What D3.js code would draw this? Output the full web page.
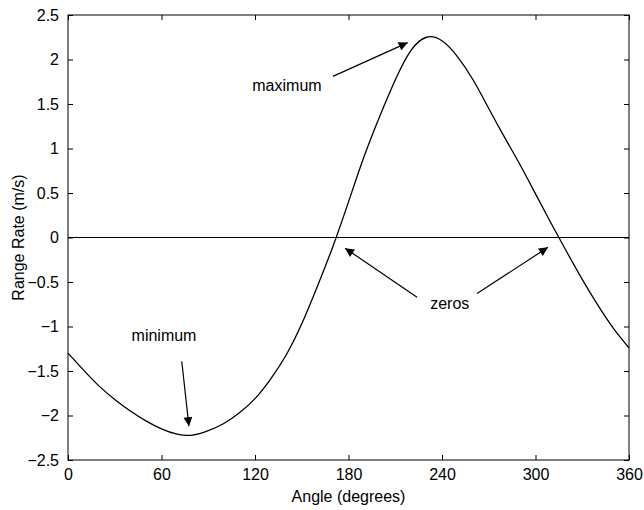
<!DOCTYPE html>
<html>
<head>
<meta charset="utf-8">
<script src="https://cdn.jsdelivr.net/npm/d3@7"></script>
<style>
  body { margin: 0; background: #fff; }
  text { font-family: "Liberation Sans", Arial, sans-serif; fill: #000; }
</style>
</head>
<body>
<svg id="chart" width="644" height="510"></svg>
<script>
// angle (degrees) and range rate (m/s)
const angles = [0, 10, 20, 30, 40, 50, 60, 70, 80, 90, 100, 110, 120, 130, 140, 150,
                160, 170, 180, 190, 200, 210, 220, 230, 240, 250, 260, 270, 280, 290, 300, 310,
                320, 330, 340, 350, 360];
const rangeRate = [-1.30, -1.49, -1.67, -1.82, -1.95, -2.06, -2.15, -2.21, -2.22, -2.17, -2.09, -1.97,
                   -1.81, -1.59, -1.32, -0.97, -0.55, -0.10, 0.40, 0.91, 1.36, 1.77, 2.10, 2.25,
                   2.21, 2.03, 1.77, 1.45, 1.13, 0.82, 0.49, 0.16, -0.16, -0.47, -0.76, -1.02, -1.24];
const xTicks = [0, 60, 120, 180, 240, 300, 360];
const yTicks = [-2.5, -2, -1.5, -1, -0.5, 0, 0.5, 1, 1.5, 2, 2.5];

// annotation labels and arrows, in data units
const labels = [
  {text: "maximum", x: 140.5, y: 1.71},
  {text: "zeros",   x: 245,   y: -0.74},
  {text: "minimum", x: 61.6,  y: -1.10}
];
const arrows = [
  {x1: 170,   y1: 1.81,  x2: 218,   y2: 2.19},
  {x1: 224,   y1: -0.67, x2: 177.8, y2: -0.12},
  {x1: 262.5, y1: -0.63, x2: 308,   y2: -0.11},
  {x1: 73,    y1: -1.39, x2: 77.6,  y2: -2.12}
];

const svg = d3.select("#chart");
const mLeft = 68, mRight = 629, mTop = 15, mBottom = 460;

const x = d3.scaleLinear().domain([0, 360]).range([mLeft, mRight]);
const y = d3.scaleLinear().domain([-2.5, 2.5]).range([mBottom, mTop]);

svg.append("defs").append("marker")
  .attr("id", "head")
  .attr("viewBox", "0 0 10 10")
  .attr("refX", 10).attr("refY", 5)
  .attr("markerWidth", 15).attr("markerHeight", 9)
  .attr("markerUnits", "userSpaceOnUse")
  .attr("orient", "auto")
  .append("path").attr("d", "M0,0 L10,5 L0,10 Z").attr("fill", "#000");

// frame
svg.append("rect")
  .attr("x", mLeft).attr("y", mTop)
  .attr("width", mRight - mLeft).attr("height", mBottom - mTop)
  .attr("fill", "none").attr("stroke", "#000").attr("stroke-width", 1);

// axes with inward ticks, on all four sides
svg.append("g").attr("transform", `translate(0,${mBottom})`)
  .call(d3.axisBottom(x).tickValues(xTicks).tickSize(-5).tickPadding(9).tickFormat(d3.format("d")))
  .call(g => g.select(".domain").remove());
svg.append("g").attr("transform", `translate(0,${mTop})`)
  .call(d3.axisTop(x).tickValues(xTicks).tickSize(-5).tickFormat(""))
  .call(g => g.select(".domain").remove());
svg.append("g").attr("transform", `translate(${mLeft},0)`)
  .call(d3.axisLeft(y).tickValues(yTicks).tickSize(-5).tickPadding(9).tickFormat(d => d3.format("")(d)))
  .call(g => g.select(".domain").remove());
svg.append("g").attr("transform", `translate(${mRight},0)`)
  .call(d3.axisRight(y).tickValues(yTicks).tickSize(-5).tickFormat(""))
  .call(g => g.select(".domain").remove());

svg.selectAll(".tick text").attr("font-size", 16).attr("font-family", "Liberation Sans, Arial, sans-serif");
svg.selectAll(".tick line").attr("stroke", "#000");

// zero line
svg.append("line")
  .attr("x1", x(0)).attr("x2", x(360))
  .attr("y1", y(0)).attr("y2", y(0))
  .attr("stroke", "#000").attr("stroke-width", 1);

// curve
const pts = angles.map((a, i) => [a, rangeRate[i]]);
svg.append("path")
  .datum(pts)
  .attr("fill", "none")
  .attr("stroke", "#000")
  .attr("stroke-width", 1.3)
  .attr("d", d3.line().x(d => x(d[0])).y(d => y(d[1])).curve(d3.curveNatural));

// axis titles
svg.append("text")
  .attr("x", (mLeft + mRight) / 2).attr("y", 502)
  .attr("text-anchor", "middle").attr("font-size", 16)
  .text("Angle (degrees)");
svg.append("text")
  .attr("transform", `translate(24,${(mTop + mBottom) / 2}) rotate(-90)`)
  .attr("text-anchor", "middle").attr("font-size", 16)
  .text("Range Rate (m/s)");

// annotations
svg.selectAll("text.note")
  .data(labels)
  .join("text")
  .attr("class", "note")
  .attr("x", d => x(d.x)).attr("y", d => y(d.y))
  .attr("dy", "0.35em")
  .attr("text-anchor", "middle").attr("font-size", 16)
  .text(d => d.text);

svg.selectAll("line.arrow")
  .data(arrows)
  .join("line")
  .attr("class", "arrow")
  .attr("x1", d => x(d.x1)).attr("y1", d => y(d.y1))
  .attr("x2", d => x(d.x2)).attr("y2", d => y(d.y2))
  .attr("stroke", "#000").attr("stroke-width", 1.2)
  .attr("marker-end", "url(#head)");
</script>
</body>
</html>
